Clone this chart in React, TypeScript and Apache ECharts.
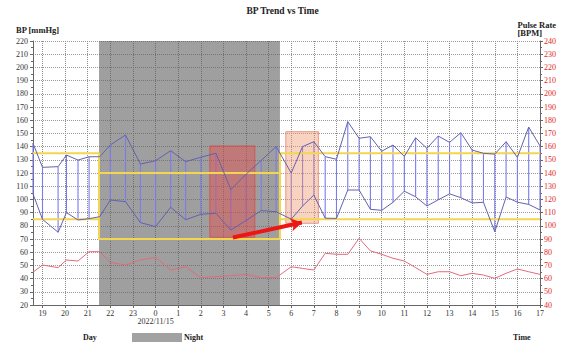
import React, { useEffect, useRef } from 'react';
import * as echarts from 'echarts';

// Reading times in hours from 00:00 of 2022/11/14 (24 = 00:00 of 2022/11/15)
const times = [
  18.58, 19.0, 19.69, 20.06, 20.57, 21.06, 21.53,
  22.0, 22.67, 23.33, 24.0, 24.67, 25.33, 26.0, 26.67, 27.33, 28.0, 28.67, 29.33,
  30.0, 30.5, 31.0, 31.5, 32.0, 32.5, 33.0, 33.5, 34.0, 34.5, 35.0, 35.5,
  36.0, 36.5, 37.0, 37.5, 38.0, 38.5, 39.0, 39.5, 40.0, 40.5, 41.0,
];
const systolic = [
  142.5, 124.3, 124.8, 133.6, 129.8, 132.3, 132.3,
  141.2, 148.8, 126.8, 129.3, 136.9, 128.6, 131.9, 135.0, 107.5, 119.0, 129.5, 140.0,
  120.0, 140.0, 143.7, 132.4, 130.4, 158.9, 146.3, 147.5, 136.5, 141.2, 132.6, 146.7,
  138.7, 148.0, 143.2, 150.5, 137.4, 134.9, 134.3, 143.7, 131.8, 154.8, 140.5,
];
const diastolic = [
  104.1, 84.9, 75.1, 90.0, 84.4, 85.4, 86.9,
  99.5, 98.3, 82.4, 79.4, 94.0, 84.6, 88.7, 89.5, 76.8, 84.0, 91.5, 90.7,
  85.0, 95.0, 103.3, 85.8, 85.6, 107.1, 107.1, 92.5, 91.7, 97.8, 106.2, 102.0,
  95.0, 99.7, 104.2, 101.3, 97.3, 97.8, 75.5, 101.8, 97.9, 96.2, 92.0,
];
const pulse = [
  64.8, 70.3, 68.3, 74.1, 73.3, 80.4, 80.4,
  72.3, 70.3, 74.1, 76.1, 66.5, 69.0, 60.7, 61.5, 62.2, 63.2, 60.7, 60.7,
  69.0, 67.7, 66.5, 79.2, 78.4, 78.4, 90.5, 81.0, 78.4, 75.4, 73.3, 68.3,
  63.2, 65.2, 65.2, 62.2, 64.0, 62.7, 60.2, 64.0, 67.3, 65.2, 63.2,
];
const hourTicks = [19, 20, 21, 22, 23, 24, 25, 26, 27, 28, 29, 30, 31, 32, 33, 34, 35, 36, 37, 38, 39, 40, 41];
const dateLabel = '2022/11/15';
const xMin = 18.58;
const xMax = 41;
const nightStart = 21.5;
const nightEnd = 29.5;
const dayUpper = 135;
const dayLower = 85;
const nightUpper = 120;
const nightLower = 70;
// highlight boxes [t1, v1, t2, v2] on the BP axis
const boxNight = [26.4, 140.5, 28.39, 71.3];
const boxMorning = [29.76, 151.3, 31.2, 81.9];
const arrowFrom = [27.42, 71.1];
const arrowTo = [30.47, 82.5];

const SERIF = '"Liberation Serif", "DejaVu Serif", serif';

export default function App() {
  const ref = useRef<HTMLDivElement>(null);
  useEffect(() => {
    if (!ref.current) return;
    const chart = echarts.init(ref.current, undefined, { renderer: 'svg' });
    const bpPairs = times.map((t, i) => [t, systolic[i], diastolic[i]]);
    const option: any = {
      animation: false,
      backgroundColor: '#ffffff',
      title: {
        text: 'BP Trend vs Time',
        left: 'center',
        top: 1,
        textStyle: { fontFamily: SERIF, fontSize: 9.5, fontWeight: 'bold', color: '#222' },
      },
      grid: { left: 33, right: 25, top: 41, bottom: 37, containLabel: false },
      xAxis: {
        type: 'value',
        min: xMin,
        max: xMax,
        splitNumber: 22,
        axisLine: { show: true, lineStyle: { color: '#666', width: 1 } },
        axisTick: { show: true, length: 3, customValues: hourTicks, lineStyle: { color: '#666' } },
        axisLabel: {
          customValues: hourTicks,
          fontFamily: SERIF,
          fontSize: 8,
          color: '#333',
          margin: 4,
          lineHeight: 8,
          formatter: (v: number) => {
            const h = Math.round(v) % 24;
            return Math.round(v) === 24 ? `${h}\n${dateLabel}` : String(h);
          },
        },
        splitLine: { show: true, lineStyle: { color: '#8a8a8a', type: 'dotted', width: 1 } },
      },
      yAxis: [
        {
          type: 'value',
          min: 20,
          max: 220,
          interval: 10,
          position: 'left',
          axisLine: { show: true, lineStyle: { color: '#666' } },
          axisTick: { show: true, length: 3, lineStyle: { color: '#666' } },
          minorTick: { show: true, splitNumber: 2, length: 2, lineStyle: { color: '#666' } },
          axisLabel: { fontFamily: SERIF, fontSize: 8, color: '#333', margin: 5 },
          splitLine: { show: true, lineStyle: { color: '#9a9a9a', type: 'dotted', width: 1 } },
        },
        {
          type: 'value',
          min: 40,
          max: 240,
          interval: 10,
          position: 'right',
          axisLine: { show: true, lineStyle: { color: '#666' } },
          axisTick: { show: true, length: 3, lineStyle: { color: '#666' } },
          minorTick: { show: true, splitNumber: 2, length: 2, lineStyle: { color: '#666' } },
          axisLabel: { fontFamily: SERIF, fontSize: 8, color: '#e32626', margin: 4 },
          splitLine: { show: false },
        },
      ],
      series: [
        {
          name: 'upperLimit',
          type: 'line',
          yAxisIndex: 0,
          symbol: 'none',
          lineStyle: { color: '#f2d650', width: 2 },
          data: [
            [xMin, dayUpper], [nightStart, dayUpper], [nightStart, nightLower],
            [nightEnd, nightLower], [nightEnd, dayUpper], [xMax, dayUpper],
          ],
          markArea: {
            silent: true,
            z: 1,
            itemStyle: { color: 'rgba(95,95,95,0.6)' },
            data: [[{ xAxis: nightStart }, { xAxis: nightEnd }]],
          },
        },
        {
          name: 'lowerLimit',
          type: 'line',
          yAxisIndex: 0,
          symbol: 'none',
          lineStyle: { color: '#f2d650', width: 2 },
          data: [
            [xMin, dayLower], [nightStart, dayLower], [nightStart, nightUpper],
            [nightEnd, nightUpper], [nightEnd, dayLower], [xMax, dayLower],
          ],
        },
        {
          name: 'bpRange',
          type: 'custom',
          yAxisIndex: 0,
          renderItem: (params: any, api: any) => {
            const t = api.value(0);
            const p1 = api.coord([t, api.value(1)]);
            const p2 = api.coord([t, api.value(2)]);
            return {
              type: 'line',
              shape: { x1: p1[0], y1: p1[1], x2: p2[0], y2: p2[1] },
              style: { stroke: '#7b7bee', lineWidth: 1.1 },
            };
          },
          encode: { x: 0, y: [1, 2] },
          data: bpPairs,
        },
        {
          name: 'Systolic',
          type: 'line',
          yAxisIndex: 0,
          symbol: 'none',
          lineStyle: { color: '#6262ae', width: 1 },
          data: times.map((t, i) => [t, systolic[i]]),
        },
        {
          name: 'Diastolic',
          type: 'line',
          yAxisIndex: 0,
          symbol: 'none',
          lineStyle: { color: '#6262ae', width: 1 },
          data: times.map((t, i) => [t, diastolic[i]]),
        },
        {
          name: 'Pulse',
          type: 'line',
          yAxisIndex: 1,
          symbol: 'none',
          lineStyle: { color: '#e46a7a', width: 1 },
          data: times.map((t, i) => [t, pulse[i]]),
          markArea: {
            silent: true,
            z: 3,
            data: [
              [
                { coord: [boxNight[0], boxNight[1] + 20], itemStyle: { color: 'rgba(236,70,70,0.42)', borderColor: 'rgba(215,70,70,0.7)', borderWidth: 1 } },
                { coord: [boxNight[2], boxNight[3] + 20] },
              ],
              [
                { coord: [boxMorning[0], boxMorning[1] + 20], itemStyle: { color: 'rgba(240,150,110,0.42)', borderColor: 'rgba(230,130,110,0.8)', borderWidth: 1 } },
                { coord: [boxMorning[2], boxMorning[3] + 20] },
              ],
            ],
          },
          markLine: {
            silent: true,
            symbol: ['none', 'arrow'],
            symbolSize: [10, 11],
            label: { show: false },
            lineStyle: { color: '#ee1515', width: 4, type: 'solid' },
            data: [[{ coord: [arrowFrom[0], arrowFrom[1] + 20] }, { coord: [arrowTo[0], arrowTo[1] + 20] }]],
          },
        },
      ],
      graphic: [
        {
          type: 'text', left: 16, top: 25,
          style: { text: 'BP [mmHg]', fontFamily: SERIF, fontSize: 8.5, fontWeight: 'bold', fill: '#222' },
        },
        {
          type: 'text', right: 9, top: 20,
          style: { text: 'Pulse Rate\n[BPM]', align: 'right', lineHeight: 8.5, fontFamily: SERIF, fontSize: 8.5, fontWeight: 'bold', fill: '#222' },
        },
        {
          type: 'text', left: 83, top: 333,
          style: { text: 'Day', fontFamily: SERIF, fontSize: 8, fontWeight: 'bold', fill: '#222' },
        },
        {
          type: 'rect', left: 132, top: 333,
          shape: { width: 50, height: 12 },
          style: { fill: '#a2a2a2' },
        },
        {
          type: 'text', left: 184, top: 333,
          style: { text: 'Night', fontFamily: SERIF, fontSize: 8, fontWeight: 'bold', fill: '#222' },
        },
        {
          type: 'text', left: 513, top: 333,
          style: { text: 'Time', fontFamily: SERIF, fontSize: 8, fontWeight: 'bold', fill: '#222' },
        },
      ],
    };
    chart.setOption(option);
    return () => chart.dispose();
  }, []);
  return <div ref={ref} style={{ width: 565, height: 342, position: 'absolute', left: 0, top: 0 }} />;
}
